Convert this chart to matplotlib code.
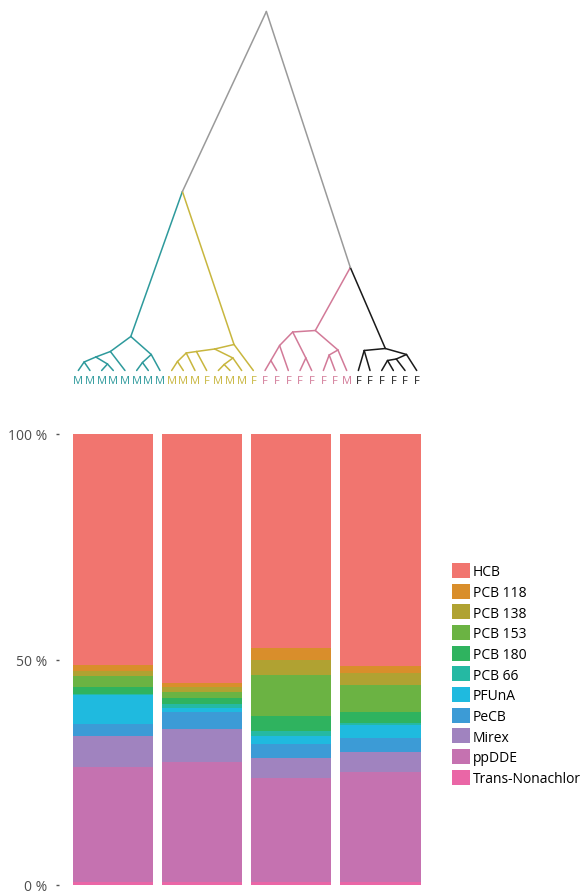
import matplotlib
matplotlib.use("Agg")
import matplotlib.pyplot as plt
from matplotlib.patches import Patch

plt.rcParams["font.family"] = ["Open Sans", "DejaVu Sans"]

# stacked bars: share (%) of each compound, one list per cluster
compounds = ["HCB", "PCB 118", "PCB 138", "PCB 153", "PCB 180", "PCB 66",
             "PFUnA", "PeCB", "Mirex", "ppDDE", "Trans-Nonachlor"]
cluster1 = [51.3, 1.2, 1.1, 2.6, 1.4, 0.3, 6.4, 2.6, 6.9, 25.5, 0.7]
cluster2 = [55.2, 1.0, 0.9, 1.4, 1.3, 0.9, 1.0, 3.6, 7.5, 26.5, 0.7]
cluster3 = [47.5, 2.5, 3.4, 9.1, 3.3, 1.1, 1.8, 3.1, 4.5, 23.0, 0.7]
cluster4 = [51.4, 1.7, 2.6, 6.0, 2.4, 0.4, 3.0, 2.9, 4.6, 24.4, 0.6]
compound_colors = ["#F1756F", "#D98E2B", "#B0A232", "#6BB343", "#2FB35F", "#25B9A3",
                   "#1FBADF", "#3C9BD6", "#A083BF", "#C572B0", "#EA66A6"]
yticks = [0, 0.5, 1.0]
ytick_labels = ["0 %", "50 %", "100 %"]

# dendrogram: leaves, cluster sizes and merges as (left, right, height)
leaf_labels = list("MMMMMMMM" + "MMMFMMMF" + "FFFFFFFM" + "FFFFFF")
cluster_sizes = [8, 8, 8, 6]
cluster_colors = ["#2E9A9C", "#C8B63E", "#D27A98", "#1A1A1A"]
teal_tree = ((((0, 1, 8.5), (2, 3, 6.5), 13.5), 4, 19), ((5, 6, 8), 7, 16), 34)
yellow_tree = (((((8, 9, 9), 10, 17.5), 11, 19), ((12, 13, 6), 14, 12.5), 21.5), 15, 26)
pink_tree = ((((16, 17, 10), 18, 25), (19, 20, 12.5), 38.5), ((21, 22, 15.5), 23, 20.5), 40)
black_tree = ((24, 25, 20), (((26, 27, 10), 28, 11.5), 29, 16), 22)
tree = ((teal_tree, yellow_tree, 179), (pink_tree, black_tree, 103), 359)

leaf_cluster = []
for k, n in enumerate(cluster_sizes):
    leaf_cluster += [k] * n

W, H = 581, 895
fig = plt.figure(figsize=(W / 100, H / 100), dpi=100)


def draw_node(ax, node):
    """Triangle dendrogram: node sits halfway between its children."""
    if isinstance(node, int):
        return node, 0.0, {leaf_cluster[node]}
    left, right, h = node
    x1, h1, c1 = draw_node(ax, left)
    x2, h2, c2 = draw_node(ax, right)
    x = (x1 + x2) / 2
    for xc, hc, cc in ((x1, h1, c1), (x2, h2, c2)):
        col = cluster_colors[next(iter(cc))] if len(cc) == 1 else "#9A9A9A"
        ax.plot([x, xc], [h, hc], color=col, lw=1.1, clip_on=False,
                solid_capstyle="round")
    return x, h, c1 | c2


# dendrogram panel
ax_d = fig.add_axes([78.3 / W, (H - 371.5) / H, 338.4 / W, 359 / H])
draw_node(ax_d, tree)
ax_d.set_xlim(0, len(leaf_labels) - 1)
ax_d.set_ylim(0, 359)
ax_d.axis("off")
for i, lab in enumerate(leaf_labels):
    ax_d.annotate(lab, (i, 0), xytext=(0, -7), textcoords="offset points",
                  ha="center", va="center", fontsize=8,
                  color=cluster_colors[leaf_cluster[i]])

# stacked bar panel
ax = fig.add_axes([59.3 / W, (H - 886) / H, 374.7 / W, 451 / H])
positions = range(4)
clusters = [cluster1, cluster2, cluster3, cluster4]
bottoms = [0.0] * 4
for j in reversed(range(len(compounds))):
    vals = [c[j] / 100 for c in clusters]
    ax.bar(positions, vals, bottom=bottoms, width=0.9,
           color=compound_colors[j], label=compounds[j], linewidth=0)
    bottoms = [b + v for b, v in zip(bottoms, vals)]

ax.set_xlim(-0.6, 3.6)
ax.set_ylim(0, 1)
ax.set_xticks([])
ax.set_yticks(yticks)
ax.set_yticklabels(ytick_labels, fontsize=10, color="#4D4D4D")
ax.tick_params(axis="y", length=2.5, width=1, color="#555555", pad=6)
for s in ax.spines.values():
    s.set_visible(False)

handles = [Patch(facecolor=c, edgecolor="none") for c in compound_colors]
fig.legend(handles, compounds, loc="upper left",
           bbox_to_anchor=(452 / W, 1 - 564 / H), frameon=False,
           fontsize=10, handlelength=1.3, handleheight=1.3,
           handletextpad=0.2, labelspacing=0.32, borderpad=0,
           borderaxespad=0)

fig.savefig("out.png", dpi=100)
